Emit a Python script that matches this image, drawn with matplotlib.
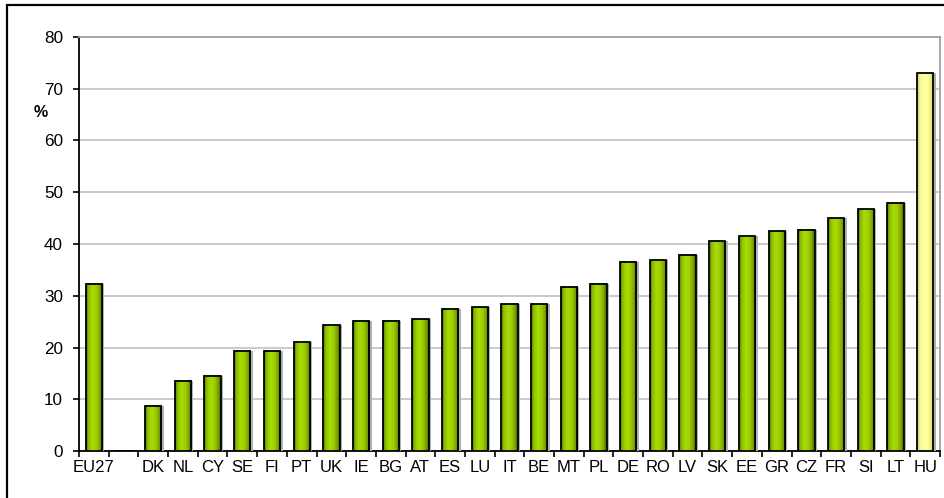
import numpy as np
import matplotlib
matplotlib.use("Agg")
import matplotlib.pyplot as plt
from matplotlib.colors import LinearSegmentedColormap
from matplotlib.patches import Rectangle

plt.rcParams['font.family'] = ['Liberation Sans', 'DejaVu Sans']

# data (blank slot between EU27 and DK)
countries = ["EU27", "", "DK", "NL", "CY", "SE", "FI", "PT", "UK", "IE", "BG", "AT", "ES",
             "LU", "IT", "BE", "MT", "PL", "DE", "RO", "LV", "SK", "EE", "GR", "CZ",
             "FR", "SI", "LT", "HU"]
values = [32.3, np.nan, 8.7, 13.6, 14.5, 19.4, 19.4, 21.0, 24.3, 25.2, 25.2, 25.5, 27.5,
          27.8, 28.4, 28.4, 31.7, 32.3, 36.6, 36.9, 37.9, 40.5, 41.5, 42.5, 42.8,
          45.0, 46.7, 48.0, 73.0]
highlight = ["HU"]

green = LinearSegmentedColormap.from_list("g", [(0, "#4f6a00"), (0.15, "#8cbf00"), (0.4, "#a8dc00"),
                                               (0.62, "#9ccf00"), (0.85, "#78a000"), (1, "#445a00")])
yellow = LinearSegmentedColormap.from_list("y", [(0, "#cccc70"), (0.18, "#f6f690"), (0.42, "#ffffaa"),
                                                (0.65, "#ffff99"), (0.85, "#e8e880"), (1, "#c0c068")])

fig = plt.figure(figsize=(9.44, 4.98), dpi=100)
ax = fig.add_axes([79/944, 1 - 451/498, (940-79)/944, (451-37)/498])

x = np.arange(len(countries))
heights = np.nan_to_num(values)
w = 0.55
# drop shadow
ax.bar(x + 0.08, heights, width=w, color="#b0b0b0", linewidth=0, zorder=3)
bars = ax.bar(x, heights, width=w, facecolor="none", edgecolor="black", linewidth=1.3, zorder=4)
grad = np.linspace(0, 1, 64).reshape(1, -1)
for name, b, v in zip(countries, bars, values):
    if np.isnan(v):
        continue
    cm = yellow if name in highlight else green
    ax.imshow(grad, cmap=cm, aspect="auto", interpolation="bilinear", zorder=3.5,
              extent=[b.get_x(), b.get_x() + b.get_width(), 0, b.get_height()])

ax.set_xlim(-0.5, len(countries) - 0.5)
ax.set_ylim(0, 80)
ax.set_yticks(range(0, 81, 10))
ax.yaxis.grid(True, color="#c0c0c0", linewidth=1.2)
ax.set_axisbelow(True)

ax.set_xticks(np.arange(-0.5, len(countries), 1))
ax.set_xticklabels([])
ax.set_xticks(x, minor=True)
ax.set_xticklabels(countries, minor=True)
ax.tick_params(axis="x", which="major", direction="out", length=4, width=1.2, color="black")
ax.tick_params(axis="x", which="minor", length=0, pad=6.5, labelsize=12)
ax.tick_params(axis="y", direction="out", length=4.5, width=1.2, labelsize=12.3, pad=7)
for lab in ax.get_xticklabels(minor=True):
    lab.set_fontstretch("condensed")

for s in ["left", "bottom"]:
    ax.spines[s].set_color("black")
    ax.spines[s].set_linewidth(1.3)
for s in ["top", "right"]:
    ax.spines[s].set_color("#a0a0a0")
    ax.spines[s].set_linewidth(1.3)

ax.text(-0.045, 65.5, "%", transform=ax.get_yaxis_transform(), ha="center", va="center",
        fontsize=11.5, fontweight="bold")

# outer chart frame
fig.patches.append(Rectangle((7/944, -0.05), 1.0, 1 - 5/498 + 0.05, transform=fig.transFigure,
                             fill=False, edgecolor="black", linewidth=1.6, clip_on=False))

fig.savefig("out.png", dpi=100)
